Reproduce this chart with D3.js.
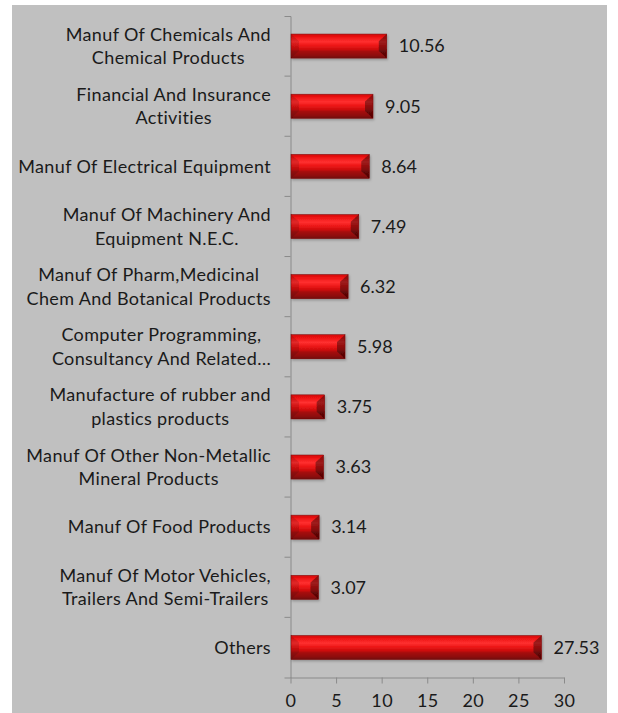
<!DOCTYPE html>
<html>
<head>
<meta charset="utf-8">
<script src="https://cdn.jsdelivr.net/npm/d3@7/dist/d3.min.js"></script>
<style>
  html, body { margin: 0; padding: 0; background: #ffffff; }
  svg { display: block; }
  text { font-family: Lato, "Open Sans", sans-serif; fill: #1a1a1a; letter-spacing: 0.35px; }
</style>
</head>
<body>
<script>
// Sector shares, top to bottom
const categories = [
  ["Manuf Of Chemicals And", "Chemical Products"],
  ["Financial And Insurance", "Activities"],
  ["Manuf Of Electrical Equipment"],
  ["Manuf Of Machinery And", "Equipment N.E.C."],
  ["Manuf Of Pharm,Medicinal", "Chem And Botanical Products"],
  ["Computer Programming,", "Consultancy And Related…"],
  ["Manufacture of rubber and", "plastics products"],
  ["Manuf Of Other Non-Metallic", "Mineral Products"],
  ["Manuf Of Food Products"],
  ["Manuf Of Motor Vehicles,", "Trailers And Semi-Trailers"],
  ["Others"]
];
const values = [10.56, 9.05, 8.64, 7.49, 6.32, 5.98, 3.75, 3.63, 3.14, 3.07, 27.53];
const xTicks = [0, 5, 10, 15, 20, 25, 30];

const W = 618, H = 713;
const plot = { left: 290.5, right: 564, top: 16, bottom: 677.5 };
const fontSize = 18;

const svg = d3.select("body").append("svg").attr("width", W).attr("height", H);

// panel background
svg.append("rect").attr("x", 12).attr("y", 5).attr("width", 595).attr("height", H - 5)
  .attr("fill", "#c0c0c0");

const defs = svg.append("defs");
const grad = defs.append("linearGradient").attr("id", "face").attr("x1", 0).attr("y1", 0).attr("x2", 0).attr("y2", 1);
[["0%", "#d20a0a"], ["12%", "#ec1212"], ["32%", "#ff3030"], ["48%", "#ec1616"],
 ["64%", "#cc0e0e"], ["72%", "#a60c0c"], ["90%", "#8c0a0a"], ["100%", "#6e0707"]]
  .forEach(([o, c]) => grad.append("stop").attr("offset", o).attr("stop-color", c));
const sh = defs.append("filter").attr("id", "shadow").attr("x", "-5%").attr("y", "-20%").attr("width", "115%").attr("height", "160%");
sh.append("feDropShadow").attr("dx", 1).attr("dy", 1.5).attr("stdDeviation", 1)
  .attr("flood-color", "#000").attr("flood-opacity", 0.25);

const x = d3.scaleLinear().domain([0, 30]).range([plot.left, plot.right]);
const y = d3.scaleBand().domain(d3.range(categories.length)).range([plot.top, plot.bottom]).paddingInner(0.6).paddingOuter(0.3);
const yBand = d3.scaleBand().domain(d3.range(categories.length)).range([plot.top, plot.bottom]);

// axes
const axisColor = "#8a8a8a";
const gy = svg.append("g").attr("transform", `translate(${plot.left},0)`)
  .call(d3.axisLeft(yBand).tickValues([]).tickSizeOuter(6));
// band boundary ticks
gy.selectAll(".bt").data(d3.range(1, categories.length)).enter().append("line")
  .attr("x1", -6).attr("x2", 0)
  .attr("y1", d => yBand(d)).attr("y2", d => yBand(d));
gy.selectAll("path, line").attr("stroke", axisColor);

const gx = svg.append("g").attr("transform", `translate(0,${plot.bottom})`)
  .call(d3.axisBottom(x).tickValues(xTicks).tickSize(6).tickSizeOuter(0).tickPadding(11));
gx.selectAll("path, line").attr("stroke", axisColor);
gx.selectAll("text").attr("font-size", fontSize).attr("fill", "#1a1a1a")
  .style("font-family", "Lato, 'Open Sans', sans-serif");

// bevelled bars
const bars = svg.append("g");
values.forEach((v, i) => {
  const x0 = x(0) + 0.5, x1 = x(v);
  const y0 = y(i), h = y.bandwidth(), y1 = y0 + h;
  const w = x1 - x0;
  const b = Math.min(8, w / 2);
  const bt = h * 0.3, bb = h * 0.3;
  const g = bars.append("g").attr("filter", "url(#shadow)");
  g.append("rect").attr("x", x0).attr("y", y0).attr("width", w).attr("height", h).attr("fill", "url(#face)");
  const poly = (pts, fill, op) => g.append("polygon")
    .attr("points", pts.map(p => p.join(",")).join(" ")).attr("fill", fill).attr("fill-opacity", op);
  // left bevel
  poly([[x0, y0], [x0 + b, y0 + bt], [x0 + b, y1 - bb], [x0, y1]], "#000", 0.12);
  // right bevel
  poly([[x1, y0], [x1 - b, y0 + bt], [x1 - b, y1 - bb], [x1, y1]], "#000", 0.38);
  g.append("rect").attr("x", x0).attr("y", y0).attr("width", w).attr("height", h)
    .attr("fill", "none").attr("stroke", "#7a0808").attr("stroke-width", 0.5);

  // value label
  svg.append("text").attr("x", x1 + 12).attr("y", y0 + h / 2).attr("dy", "0.35em")
    .attr("font-size", fontSize).style("letter-spacing", "0px").text(d3.format(".2f")(v));
});

// category labels: lines centered within a right-aligned block
const labelRight = 271, lineH = 23.5;
categories.forEach((lines, i) => {
  const cy = yBand(i) + yBand.bandwidth() / 2;
  const t = svg.append("text").attr("font-size", fontSize).attr("text-anchor", "middle");
  const spans = lines.map((s, k) => t.append("tspan").text(s)
    .attr("y", cy + (k - (lines.length - 1) / 2) * lineH).attr("dy", "0.35em"));
  const maxW = d3.max(spans, s => s.node().getComputedTextLength());
  spans.forEach(s => s.attr("x", labelRight - maxW / 2));
});
</script>
</body>
</html>
